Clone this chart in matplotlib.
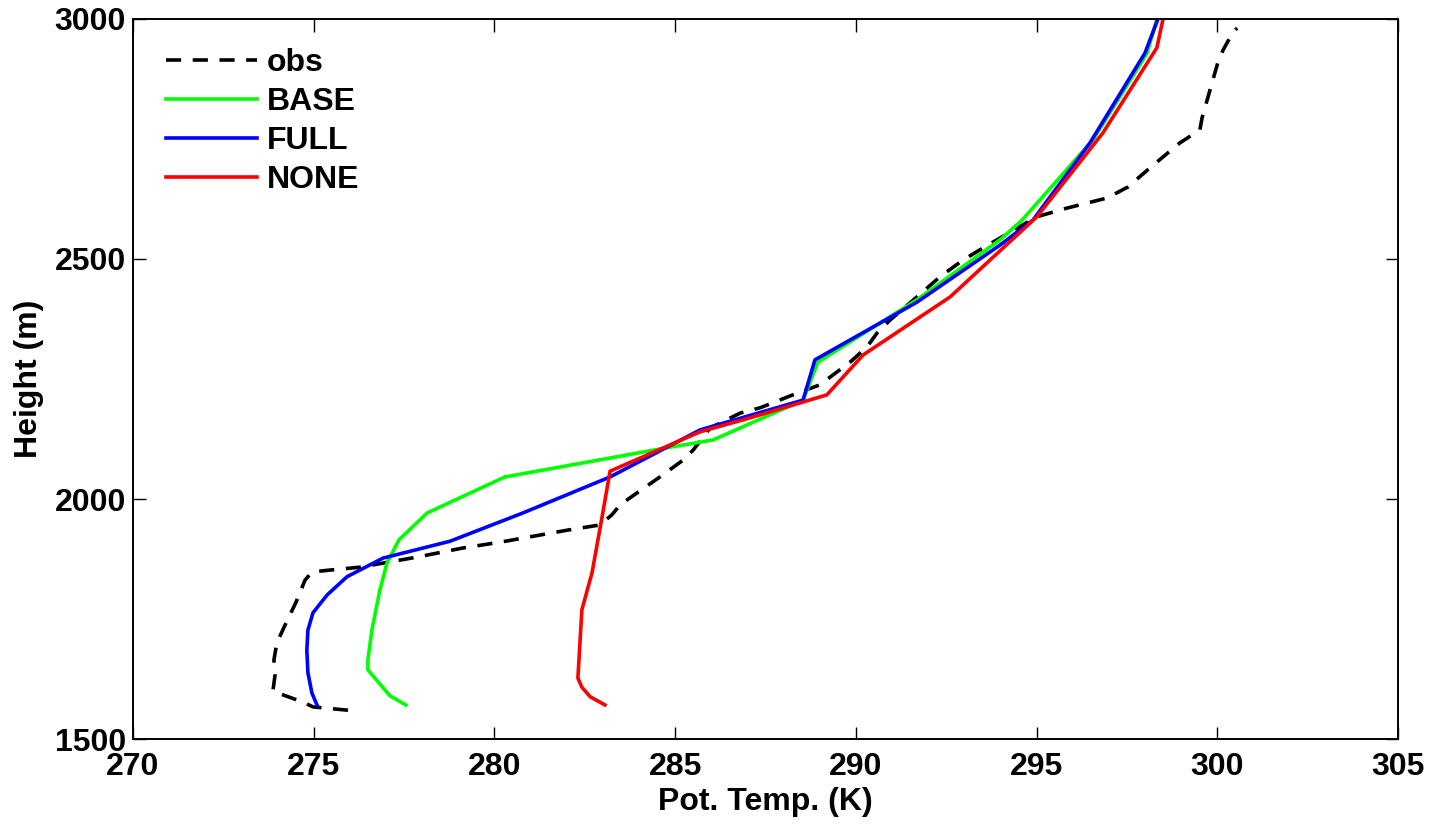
import matplotlib
matplotlib.use('Agg')
import matplotlib.pyplot as plt

plt.rcParams['font.family'] = ['Liberation Sans', 'DejaVu Sans']
plt.rcParams['font.weight'] = 'bold'

# perfis: temperatura potencial (K) e altura (m)
obs_t = [275.95, 274.98, 274.70, 274.15, 273.87, 273.93, 273.90, 273.98, 274.18, 274.51,
         274.76, 274.95, 275.45, 276.28, 277.86, 279.13, 280.15, 282.01, 282.92, 283.25,
         283.48, 283.95, 284.58, 285.22, 285.50, 285.97, 286.80, 287.35, 288.26, 289.01,
         289.29, 289.84, 290.31, 290.59, 290.95, 291.69, 292.33, 292.97, 293.52, 294.27,
         295.01, 295.84, 296.95, 297.53, 298.14, 298.97, 299.52, 299.58, 299.72, 299.88,
         300.02, 300.16, 300.44, 300.55]
obs_h = [1560, 1567, 1577, 1592, 1600, 1633, 1665, 1700, 1733, 1785,
         1831, 1848, 1852, 1858, 1879, 1898, 1910, 1935, 1946, 1967,
         1988, 2013, 2046, 2081, 2102, 2148, 2179, 2190, 2217, 2238,
         2254, 2285, 2317, 2346, 2373, 2421, 2463, 2498, 2523, 2556,
         2588, 2606, 2627, 2650, 2690, 2742, 2769, 2794, 2831, 2873,
         2910, 2935, 2973, 2981]

base_t = [277.55, 277.11, 276.50, 276.50, 276.61, 276.83, 277.03, 277.36, 278.14, 280.29,
          284.86, 286.05, 288.54, 288.95, 291.69, 293.99, 294.60, 296.56, 298.06, 298.33]
base_h = [1571, 1590, 1644, 1665, 1727, 1810, 1867, 1915, 1971, 2046,
          2108, 2123, 2206, 2285, 2415, 2540, 2581, 2748, 2929, 3000]

full_t = [275.09, 274.95, 274.84, 274.81, 274.84, 274.98, 275.37, 275.92, 276.92, 278.77,
          280.79, 283.20, 285.69, 288.54, 288.87, 291.69, 293.99, 294.90, 296.48, 298.00, 298.36]
full_h = [1571, 1596, 1638, 1685, 1727, 1763, 1800, 1838, 1877, 1912,
          1971, 2046, 2144, 2206, 2290, 2410, 2529, 2581, 2742, 2929, 3000]

none_t = [283.06, 282.65, 282.42, 282.31, 282.42, 282.70, 282.98, 283.20, 285.69, 287.07,
          289.20, 290.20, 292.61, 295.01, 296.84, 298.33, 298.50]
none_h = [1571, 1588, 1608, 1627, 1769, 1846, 1963, 2058, 2140, 2169,
          2217, 2300, 2421, 2588, 2763, 2940, 3000]

fig = plt.figure(figsize=(14.44, 8.25), dpi=100)
ax = fig.add_axes([0.0921, 0.1042, 0.8760, 0.8728])

lw = 2.6
ax.plot(obs_t, obs_h, color='black', linewidth=lw, dashes=(4.2, 3.2), label='obs')
ax.plot(base_t, base_h, color=(0, 1, 0), linewidth=lw, label='BASE')
ax.plot(full_t, full_h, color=(0, 0, 1), linewidth=lw, label='FULL')
ax.plot(none_t, none_h, color=(1, 0, 0), linewidth=lw, label='NONE')

ax.set_xlim(270, 305)
ax.set_ylim(1500, 3000)
ax.set_xticks(range(270, 306, 5))
ax.set_yticks([1500, 2000, 2500, 3000])
ax.tick_params(direction='in', length=9, width=1, top=True, right=True,
               labelsize=23)
ax.tick_params(axis='x', pad=9)
ax.tick_params(axis='y', pad=5)
for s in ax.spines.values():
    s.set_linewidth(1.4)

ax.set_xlabel('Pot. Temp. (K)', fontsize=23, fontweight='bold', labelpad=4)
ax.set_ylabel('Height (m)', fontsize=23, fontweight='bold', labelpad=8)

# legenda sem moldura no canto superior esquerdo
ax.legend(loc='upper left', bbox_to_anchor=(-0.0016, 1.0085), frameon=False,
          fontsize=23, handlelength=2.85, handletextpad=0.3, labelspacing=0.28,
          borderaxespad=0.7)

fig.savefig('out.png', dpi=100)
